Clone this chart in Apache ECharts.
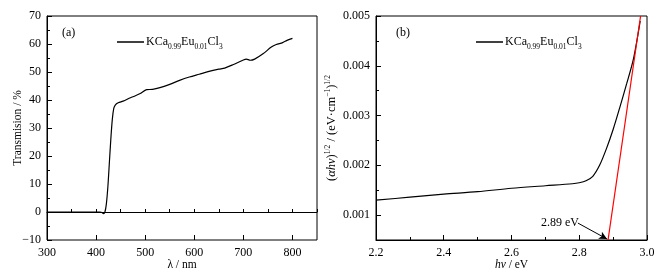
<!DOCTYPE html>
<html>
<head>
<meta charset="utf-8">
<script src="https://cdn.jsdelivr.net/npm/echarts@6/dist/echarts.min.js"></script>
<style>
  html, body { margin: 0; padding: 0; background: #fff; }
  #main { width: 669px; height: 277px; }
</style>
</head>
<body>
<div id="main"></div>
<script>
// (a) transmission spectrum
var lambda = [300, 350, 400, 408, 412, 415, 418, 421, 424, 427, 430, 433, 436, 439, 445, 455,
  470, 480, 490, 503, 515, 530, 550, 570, 590, 610, 630, 650, 662, 680, 700, 706, 714, 723, 740,
  757, 767, 780, 790, 800];
var transmission = [0, 0, 0, 0, -0.2, -0.6, 0, 3, 9, 17.5, 26, 33, 37, 38.2, 39, 39.6,
  40.8, 41.5, 42.3, 43.7, 43.8, 44.4, 45.6, 47, 48.2, 49.2, 50.2, 51, 51.4, 52.7, 54.3, 54.6, 54.2, 54.6, 56.5,
  58.9, 59.8, 60.5, 61.4, 62];

// (b) tauc plot
var energy = [2.2, 2.3, 2.4, 2.5, 2.6, 2.7, 2.78, 2.8, 2.82, 2.84, 2.86, 2.88, 2.9, 2.92, 2.94, 2.96, 2.98];
var ahv = [0.00130, 0.00136, 0.00142, 0.00147, 0.00154, 0.00159, 0.00163, 0.00165, 0.00169, 0.00178,
  0.00200, 0.00233, 0.00272, 0.00317, 0.00364, 0.00414, 0.00490];
var fitX = [2.885, 2.981];
var fitY = [0.0005, 0.005];

var xTicksA = [300, 400, 500, 600, 700, 800];
var yTicksB = [0.001, 0.002, 0.003, 0.004, 0.005];
var seriesName = 'KCa0.99Eu0.01Cl3';

var font = 'Liberation Serif';
var txt = { fontFamily: font, fontSize: 12, color: '#000' };
var nameTxt = { fontFamily: font, fontSize: 11.5, color: '#000' };
var legendRich = {
  m: { fontFamily: font, fontSize: 12, color: '#000', lineHeight: 19 },
  s: { fontFamily: font, fontSize: 7.5, color: '#000', verticalAlign: 'bottom' }
};
var nameRich = {
  m: { fontFamily: font, fontSize: 12.5, color: '#000', lineHeight: 15 },
  i: { fontFamily: font, fontSize: 12.5, color: '#000', fontStyle: 'italic', lineHeight: 15 },
  p: { fontFamily: font, fontSize: 7.5, color: '#000', verticalAlign: 'top' }
};

var dom = document.getElementById('main');
var myChart = echarts.init(dom);

var baseAxis = function (o) {
  return Object.assign({
    axisLine: { show: true, lineStyle: { color: '#000', width: 1 } },
    axisTick: { show: true, inside: true, length: 5, lineStyle: { color: '#000' } },
    minorTick: { show: false },
    axisLabel: Object.assign({ margin: 7 }, txt),
    splitLine: { show: false },
    nameMoveOverlap: false,
    nameTextStyle: nameTxt
  }, o);
};

var legendFmt = function () { return '{m|KCa}{s|0.99}{m|Eu}{s|0.01}{m|Cl}{s|3}'; };

option = {
  animation: false,
  grid: [
    { left: 47, top: 16, width: 270, height: 224, show: true, borderColor: '#000', borderWidth: 1 },
    { left: 376, top: 16, width: 271, height: 224, show: true, borderColor: '#000', borderWidth: 1 }
  ],
  legend: [
    {
      data: [seriesName], left: 112, top: 31, icon: 'rect', itemWidth: 27, itemHeight: 1.5, itemGap: 2,
      itemStyle: { color: '#000' }, formatter: legendFmt,
      textStyle: { rich: legendRich, padding: [0, 0, 0, -3] }
    },
    {
      data: [seriesName], left: 471, top: 31, icon: 'rect', itemWidth: 27, itemHeight: 1.5, itemGap: 2,
      itemStyle: { color: '#000' }, formatter: legendFmt,
      textStyle: { rich: legendRich, padding: [0, 0, 0, -3] }
    }
  ],
  graphic: [
    { type: 'text', left: 62, top: 27, style: { text: '(a)', font: '12px "Liberation Serif"', fill: '#000' } },
    { type: 'text', left: 396, top: 27, style: { text: '(b)', font: '12px "Liberation Serif"', fill: '#000' } }
  ],
  xAxis: [
    baseAxis({
      gridIndex: 0, type: 'value', min: 300, max: 850, interval: 50,
      axisTick: { show: true, inside: true, length: 3, lineStyle: { color: '#000' } },
      axisLabel: Object.assign({ margin: 7, customValues: xTicksA }, txt),
      name: 'λ / nm', nameLocation: 'middle', nameGap: 19
    }),
    baseAxis({
      gridIndex: 0, type: 'value', min: 300, max: 850, position: 'bottom',
      axisLine: { show: false }, axisLabel: { show: false },
      axisTick: { show: true, inside: true, length: 5, customValues: xTicksA, lineStyle: { color: '#000' } }
    }),
    baseAxis({
      gridIndex: 1, type: 'value', min: 2.2, max: 3.0, interval: 0.2,
      minorTick: { show: true, splitNumber: 2, length: 3, lineStyle: { color: '#000' } },
      axisLabel: Object.assign({ margin: 7, formatter: function (v) { return v.toFixed(1); } }, txt),
      name: '{i|hν}{m| / eV}', nameLocation: 'middle', nameGap: 19,
      nameTextStyle: Object.assign({ rich: {
        m: { fontFamily: font, fontSize: 11.5, color: '#000' },
        i: { fontFamily: font, fontSize: 11.5, color: '#000', fontStyle: 'italic' }
      } }, nameTxt)
    })
  ],
  yAxis: [
    baseAxis({
      gridIndex: 0, type: 'value', min: -10, max: 70, interval: 10,
      minorTick: { show: true, splitNumber: 2, length: 3, lineStyle: { color: '#000' } },
      axisLabel: Object.assign({ margin: 6, formatter: function (v) { return v < 0 ? '\u221210' : String(v); } }, txt),
      name: 'Transmision / %', nameLocation: 'middle', nameGap: 23
    }),
    baseAxis({
      gridIndex: 1, type: 'value', min: 0.0005, max: 0.005, interval: 0.0005,
      axisTick: { show: true, inside: true, length: 3, lineStyle: { color: '#000' } },
      axisLabel: Object.assign({ margin: 6, customValues: yTicksB, formatter: function (v) { return v.toFixed(3); } }, txt),
      name: '{m|(}{i|αhν}{m|)}{p|1/2}{m| / (eV·cm}{p|−1}{m|)}{p|1/2}', nameLocation: 'middle', nameGap: 37,
      nameTextStyle: Object.assign({ rich: nameRich }, nameTxt)
    }),
    baseAxis({
      gridIndex: 1, type: 'value', min: 0.0005, max: 0.005, position: 'left',
      axisLine: { show: false }, axisLabel: { show: false },
      axisTick: { show: true, inside: true, length: 5, customValues: yTicksB, lineStyle: { color: '#000' } }
    })
  ],
  series: [
    {
      name: seriesName, type: 'line', xAxisIndex: 0, yAxisIndex: 0,
      data: lambda.map(function (x, i) { return [x, transmission[i]]; }),
      symbol: 'none', smooth: 0.3, color: '#000', lineStyle: { color: '#000', width: 1.2 }
    },
    {
      name: seriesName, type: 'line', xAxisIndex: 2, yAxisIndex: 1,
      data: energy.map(function (x, i) { return [x, ahv[i]]; }),
      symbol: 'none', smooth: 0.3, color: '#000', lineStyle: { color: '#000', width: 1.2 }
    },
    {
      name: 'fit', type: 'line', xAxisIndex: 2, yAxisIndex: 1,
      data: fitX.map(function (x, i) { return [x, fitY[i]]; }),
      symbol: 'none', color: '#ff0000', lineStyle: { color: '#ff0000', width: 1.2 },
      markLine: {
        silent: true, symbol: ['none', 'arrow'], symbolSize: [6, 8],
        lineStyle: { color: '#000', width: 1, type: 'solid' }, label: { show: false },
        data: [[{ coord: [2.796, 0.00084] }, { coord: [2.882, 0.00052] }]]
      },
      markPoint: {
        silent: true, symbol: 'circle', symbolSize: 0,
        label: Object.assign({ show: true, formatter: '2.89 eV' }, txt),
        data: [{ coord: [2.743, 0.00085] }]
      }
    }
  ]
};

if (option && typeof option === 'object') {
  myChart.setOption(option, true);
}
</script>
</body>
</html>
